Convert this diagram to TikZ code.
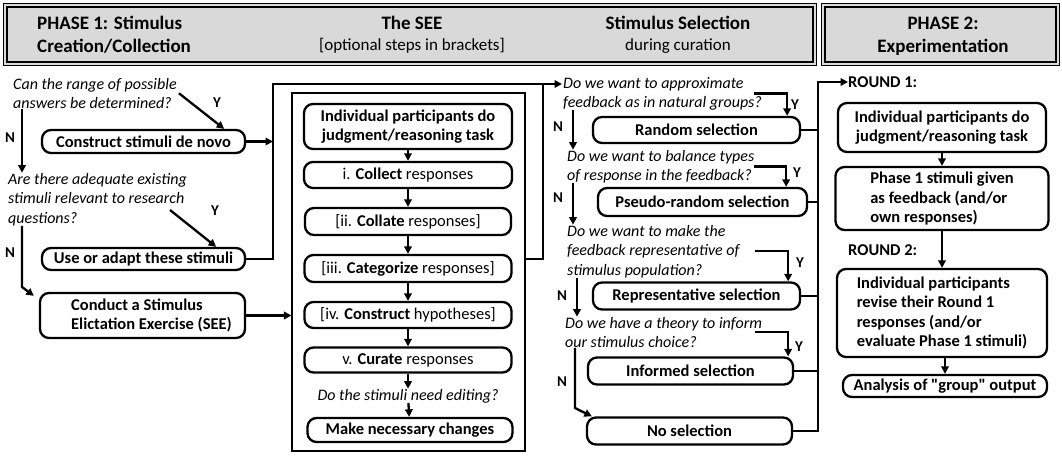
\documentclass[tikz,border=0pt]{standalone}
\usepackage{fontspec}
\setmainfont{Carlito}
\usetikzlibrary{arrows.meta}
\definecolor{hdrgray}{RGB}{217,217,217}
\begin{document}
\begin{tikzpicture}[x=1pt,y=-1pt,
  box/.style={draw, line width=2.3pt, rounded corners=9pt, inner sep=0pt, align=center, font=\fontsize{16.5}{19.5}\selectfont\bfseries},
  boxm/.style={box, font=\fontsize{16.5}{19.5}\selectfont},
  ques/.style={inner sep=0pt, align=left, anchor=base west, font=\fontsize{16}{19.5}\selectfont\itshape},
  lbl/.style={inner sep=0pt, font=\fontsize{15}{18}\selectfont\bfseries},
  htitle/.style={inner sep=0pt, font=\fontsize{19}{23}\selectfont\bfseries},
  hsub/.style={inner sep=0pt, font=\fontsize{17}{20}\selectfont},
  hdrbox/.style={draw, line width=1pt, fill=hdrgray, inner sep=0pt, anchor=north west, minimum height=62},
  conn/.style={line width=2.3pt},
  arr/.style={line width=2.3pt, -{Triangle[length=7.5pt,width=7.5pt]}}
]
\useasboundingbox (0,0) rectangle (1062,455);
\fill[white] (0,0) rectangle (1062,455);

% ---------- header ----------
\node[hdrbox, minimum width=813] (hdrL) at (3,3) {};
\draw[line width=2.2pt] ([xshift=4pt,yshift=-4pt]hdrL.north west) rectangle ([xshift=-4pt,yshift=4pt]hdrL.south east);
\node[hdrbox, minimum width=238] (hdrR) at (821,3) {};
\draw[line width=2.2pt] ([xshift=4pt,yshift=-4pt]hdrR.north west) rectangle ([xshift=-4pt,yshift=4pt]hdrR.south east);

\node[htitle, anchor=base west, align=left] (hp1) at (37,52) {PHASE 1: Stimulus\\Creation/Collection};
\node[htitle, anchor=base] (hsee) at (412,29) {The SEE};
\node[hsub, anchor=base] (hsee2) at (412,50) {[optional steps in brackets]};
\node[htitle, anchor=base] (hsel) at (678,29) {Stimulus Selection};
\node[hsub, anchor=base] (hsel2) at (678,50) {during curation};
\node[htitle, anchor=base, align=center] (hp2) at (943,52) {PHASE 2:\\Experimentation};

% ---------- phase 1 left ----------
\node[ques] (qa) at (13,108.5) {Can the range of possible\\answers be determined?};
\node[box, minimum width=203, minimum height=23] (construct) at (143.5,141.5) {Construct stimuli de novo};
\node[ques] (qb) at (8,223) {Are there adequate existing\\stimuli relevant to research\\questions?};
\node[box, minimum width=203, minimum height=22] (useadapt) at (143.5,259) {Use or adapt these stimuli};
\node[box, minimum width=205, minimum height=45, align=left] (conduct) at (142.5,315.5) {\hspace*{18pt}Conduct a Stimulus\\\hspace*{18pt}Elictation Exercise (SEE)};

\node[lbl] (ya) at (217,103) {Y};
\node[lbl] (na) at (10,138) {N};
\node[lbl] (yb) at (215,211) {Y};
\node[lbl] (nb) at (10,253) {N};

\coordinate (lv) at (273,84);
\coordinate (rv) at (543,84);
\coordinate (q1in) at (562,84);
\coordinate (d2s) at (170,210);
\coordinate (n2k) at (22,287);

% ---------- SEE ----------
\node[draw, line width=1.1pt, minimum width=233, minimum height=358, inner sep=0pt] (seeframe) at (408.5,272) {};
\node[box, minimum width=208, minimum height=45] (indiv1) at (408,126.5) {Individual participants do\\judgment/reasoning task};
\node[boxm, minimum width=208, minimum height=26] (collect) at (408,175) {i. \textbf{Collect} responses};
\node[boxm, minimum width=206, minimum height=27] (collate) at (408,221.5) {[ii. \textbf{Collate} responses]};
\node[boxm, minimum width=207, minimum height=27] (categ) at (408,268.5) {[iii. \textbf{Categorize} responses]};
\node[boxm, minimum width=207, minimum height=26] (hypo) at (408,315) {[iv. \textbf{Construct} hypotheses]};
\node[boxm, minimum width=207, minimum height=25] (curate) at (408,360) {v. \textbf{Curate} responses};
\node[ques, anchor=base] (editq) at (408,400) {Do the stimuli need editing?};
\node[box, minimum width=205, minimum height=24] (make) at (410,430) {Make necessary changes};

% ---------- stimulus selection ----------
\node[ques] (q1) at (563,107.5) {Do we want to approximate\\feedback as in natural groups?};
\node[box, minimum width=207, minimum height=26] (random) at (696.5,130) {Random selection};
\node[ques] (q2) at (567,180.5) {Do we want to balance types\\of response in the feedback?};
\node[box, minimum width=209, minimum height=28] (pseudo) at (702.5,202) {Pseudo-random selection};
\node[ques] (q3) at (567,275) {Do we want to make the\\feedback representative of\\stimulus population?};
\node[box, minimum width=207, minimum height=27] (repr) at (696.5,296) {Representative selection};
\node[ques] (q4) at (565,347.5) {Do we have a theory to inform\\our stimulus choice?};
\node[box, minimum width=205, minimum height=27] (informed) at (690.5,371) {Informed selection};
\node[box, minimum width=205, minimum height=27] (nosel) at (689.5,431) {No selection};

\node[lbl] (ys1) at (795,105) {Y};
\node[lbl] (ys2) at (797,173) {Y};
\node[lbl] (ys3) at (800,263) {Y};
\node[lbl] (ys4) at (799,347) {Y};
\node[lbl] (ns1) at (558,127) {N};
\node[lbl] (ns2) at (558,198) {N};
\node[lbl] (ns3) at (562,296) {N};
\node[lbl] (ns4) at (562,382) {N};

\coordinate (n4k) at (575,408);
\coordinate (bt) at (818,82);

% ---------- phase 2 ----------
\node[lbl, anchor=west, font=\fontsize{16.5}{19.5}\selectfont\bfseries] (r1) at (848,82) {ROUND 1:};
\node[box, minimum width=208, minimum height=49] (p2a) at (942,127.5) {Individual participants do\\judgment/reasoning task};
\node[box, minimum width=213, minimum height=63, align=left] (p2b) at (942,198.5) {Phase 1 stimuli given\\as feedback (and/or\\own responses)};
\node[lbl, anchor=west, font=\fontsize{16.5}{19.5}\selectfont\bfseries] (r2) at (848,250) {ROUND 2:};
\node[box, minimum width=210, minimum height=88, align=left] (p2c) at (942,313) {Individual participants\\revise their Round 1\\responses (and/or\\evaluate Phase 1 stimuli)};
\node[box, minimum width=204, minimum height=22] (p2d) at (945,386) {Analysis of {\addfontfeatures{Ligatures=TeXOff}"group"} output};

% ---------- connectors ----------
\draw[arr] ([xshift=2pt]qa.east) -- ([xshift=-22pt]construct.north east);
\draw[arr] ([xshift=9pt]qa.south west) -- ([xshift=14pt]qb.north west);
\draw[arr] (construct.east) -- (construct.east -| lv);
\draw[arr] (d2s) -- ([xshift=-30pt]useadapt.north east);
\draw[arr] ([xshift=14pt]qb.south west) -- (n2k) -- ([xshift=-5pt,yshift=-4pt]conduct.north west);
\draw[arr] (useadapt.east) -| (lv) -- (q1in);
\draw[arr] (conduct.east) -- (conduct.east -| seeframe.west);
\draw[conn] (seeframe.east |- useadapt.east) -| (rv);

\draw[arr] (indiv1) -- (collect);
\draw[arr] (collect) -- (collate);
\draw[arr] (collate) -- (categ);
\draw[arr] (categ) -- (hypo);
\draw[arr] (hypo) -- (curate);
\draw[arr] (curate) -- (editq);
\draw[arr] (editq) -- (make);

\draw[arr] ([xshift=-8pt]q1.east) -| ([xshift=-14pt]random.north east);
\draw[arr] (q2.east) -| ([xshift=-22pt]pseudo.north east);
\draw[arr] ([xshift=15pt]q3.east) -| ([xshift=-13pt]repr.north east);
\draw[arr] ([xshift=-7pt]q4.east) -| ([xshift=-6pt]informed.north east);

\draw[arr] ([xshift=10pt]q1.south west) -- ([xshift=6pt]q2.north west);
\draw[arr] ([xshift=6pt]q2.south west) -- ([xshift=6pt]q3.north west);
\draw[arr] ([xshift=10pt]q3.south west) -- ([xshift=12pt]q4.north west);
\draw[arr] ([xshift=10pt]q4.south west) -- (n4k) -- ([xshift=6pt]nosel.north west);

\draw[conn] (random.east) -- (random.east -| bt);
\draw[conn] (pseudo.east) -- (pseudo.east -| bt);
\draw[conn] (repr.east) -- (repr.east -| bt);
\draw[conn] (informed.east) -- (informed.east -| bt);
\draw[arr] (nosel.east) -| (bt) -- (r1.west);

\draw[arr] (p2a) -- (p2b);
\draw[arr] (p2b) -- (p2c);
\draw[arr] (p2c.south -| p2d.north) -- (p2d.north);
\end{tikzpicture}
\end{document}
